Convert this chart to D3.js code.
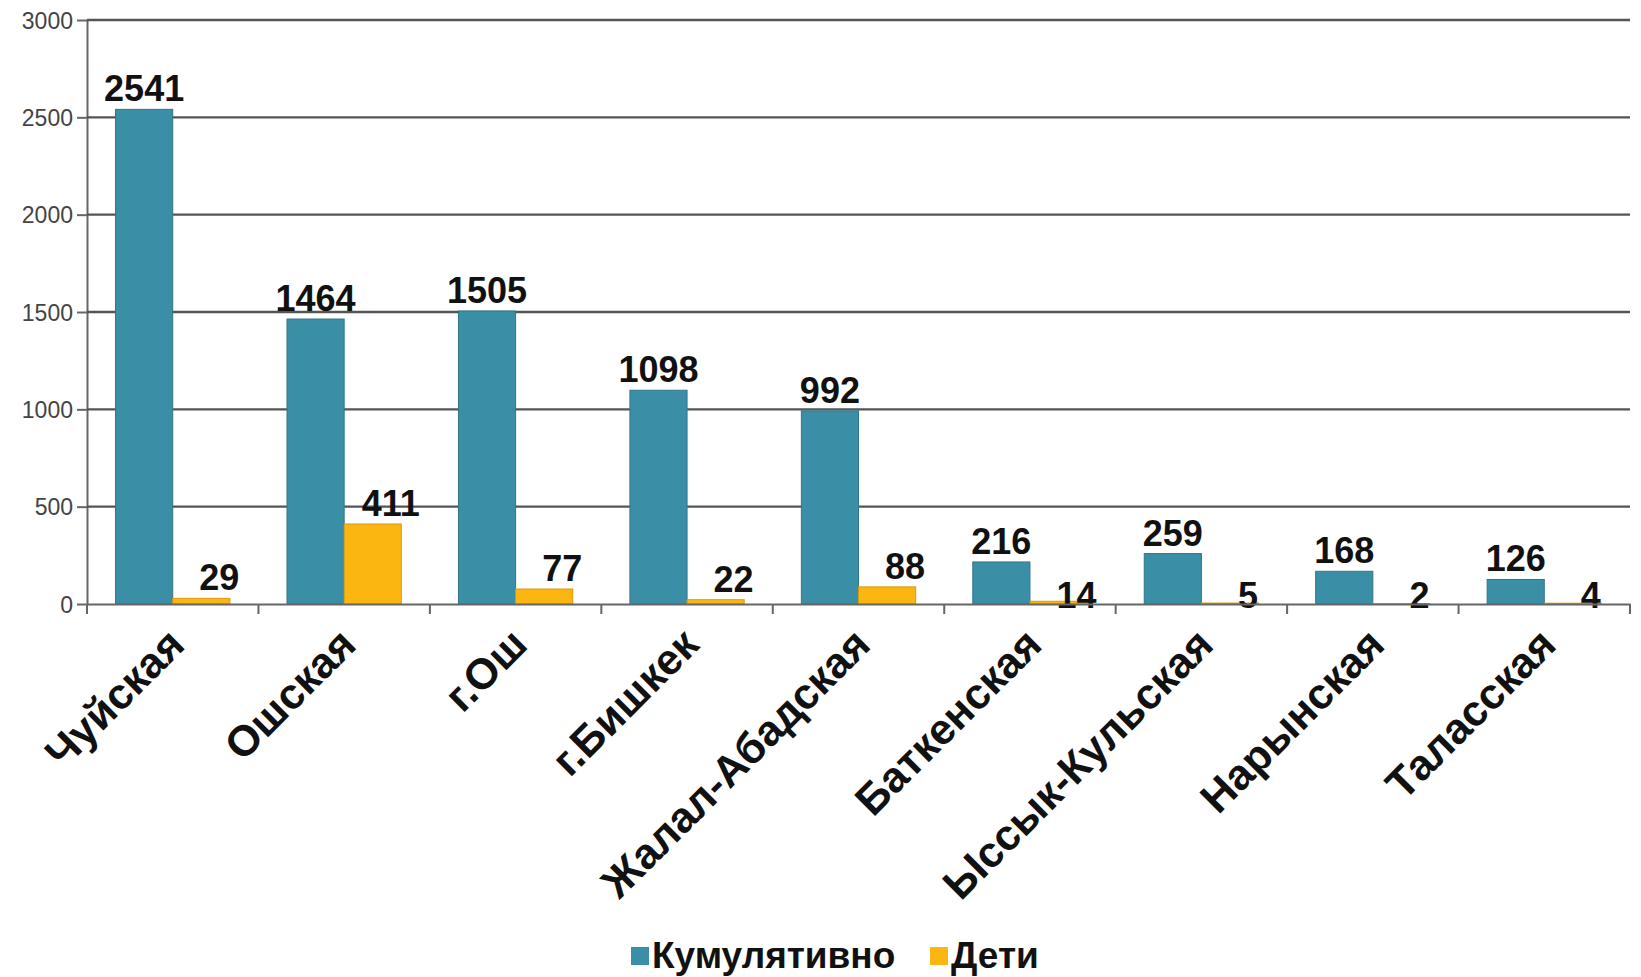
<!DOCTYPE html>
<html>
<head>
<meta charset="utf-8">
<script src="https://cdn.jsdelivr.net/npm/d3@7"></script>
<style>
  body { margin: 0; background: #fff; }
  svg text { font-family: "Liberation Sans", Arial, sans-serif; }
</style>
</head>
<body>
<svg id="chart" width="1641" height="977"></svg>
<script>
const regions = ["Чуйская", "Ошская", "г.Ош", "г.Бишкек", "Жалал-Абадская",
                 "Баткенская", "Ыссык-Кульская", "Нарынская", "Таласская"];
const cumulative = [2541, 1464, 1505, 1098, 992, 216, 259, 168, 126];
const children = [29, 411, 77, 22, 88, 14, 5, 2, 4];
const seriesNames = ["Кумулятивно", "Дети"];
const yTicks = [0, 500, 1000, 1500, 2000, 2500, 3000];

const colors = {"Кумулятивно": "#3a8fa6", "Дети": "#fbb612"};
const strokes = {"Кумулятивно": "#2f7689", "Дети": "#d99a0a"};
// the orange labels sit a little to the right of their bars in the original
const labelShift = {"Кумулятивно": 0, "Дети": 18};

const rows = regions.map((r, i) => ({region: r, "Кумулятивно": cumulative[i], "Дети": children[i]}));

const margin = {top: 20, left: 87, right: 11, bottom: 373};
const W = 1641, H = 977;
const svg = d3.select("#chart");

const x = d3.scaleBand().domain(regions).range([margin.left, W - margin.right]);
const xInner = d3.scaleBand().domain(seriesNames).range([0, x.bandwidth()]).paddingOuter(0.5);
const y = d3.scaleLinear().domain([0, 3000]).range([H - margin.bottom, margin.top]);

// gridlines + y axis
const yAxis = svg.append("g")
    .attr("transform", `translate(${margin.left},0)`)
    .call(d3.axisLeft(y).tickValues(yTicks).tickFormat(d3.format("d")).tickSize(10).tickSizeOuter(0));
yAxis.select(".domain").attr("stroke", "#666").attr("stroke-width", 2);
yAxis.selectAll(".tick line").attr("stroke", "#666").attr("stroke-width", 2);
yAxis.selectAll(".tick text")
    .attr("x", -14).attr("dy", "0.36em")
    .attr("fill", "#444").style("font-size", "23px");

svg.append("g").selectAll("line").data(yTicks.filter(d => d > 0)).join("line")
    .attr("x1", margin.left).attr("x2", W - margin.right)
    .attr("y1", d => y(d)).attr("y2", d => y(d))
    .attr("stroke", "#555").attr("stroke-width", 2.4);

// bars
const groups = svg.append("g").selectAll("g").data(rows).join("g")
    .attr("transform", d => `translate(${x(d.region)},0)`);
groups.selectAll("rect").data(d => seriesNames.map(k => ({key: k, value: d[k]}))).join("rect")
    .attr("x", d => xInner(d.key))
    .attr("width", xInner.bandwidth())
    .attr("y", d => y(d.value))
    .attr("height", d => y(0) - y(d.value))
    .attr("fill", d => colors[d.key])
    .attr("stroke", d => strokes[d.key])
    .attr("stroke-width", 1);

// value labels
groups.selectAll("text").data(d => seriesNames.map(k => ({key: k, value: d[k]}))).join("text")
    .attr("x", d => xInner(d.key) + xInner.bandwidth() / 2 + labelShift[d.key])
    .attr("y", d => d.value < 20 ? y(0) + 4 : y(d.value) - 8)
    .attr("text-anchor", "middle")
    .attr("font-weight", "bold")
    .style("font-size", "36px")
    .attr("fill", "#111")
    .text(d => d.value);

// x axis
const xAxis = svg.append("g")
    .attr("transform", `translate(0,${y(0)})`)
    .call(d3.axisBottom(x).tickSize(0));
xAxis.select(".domain").attr("stroke", "#666").attr("stroke-width", 2);
xAxis.selectAll(".tick text")
    .attr("text-anchor", "end")
    .attr("transform", "translate(14,43) rotate(-45)")
    .attr("x", 0).attr("y", 0).attr("dy", 0)
    .attr("fill", "#111")
    .attr("font-weight", "bold")
    .style("font-size", "43px");
const bounds = regions.map(r => x(r)).concat([x.range()[1]]);
xAxis.selectAll("line.bound").data(bounds).join("line")
    .attr("class", "bound")
    .attr("x1", d => d).attr("x2", d => d)
    .attr("y1", 0).attr("y2", 10)
    .attr("stroke", "#666").attr("stroke-width", 2);

// legend
const legend = svg.append("g").attr("transform", "translate(631,968)");
const legendX = [0, 299];
seriesNames.forEach((k, i) => {
    const g = legend.append("g").attr("transform", `translate(${legendX[i]},0)`);
    g.append("rect").attr("x", 0).attr("y", -21).attr("width", 18).attr("height", 18)
        .attr("fill", colors[k]);
    g.append("text").attr("x", 21).attr("y", 0)
        .attr("font-weight", "bold").style("font-size", "37px").attr("fill", "#111")
        .text(k);
});
</script>
</body>
</html>
